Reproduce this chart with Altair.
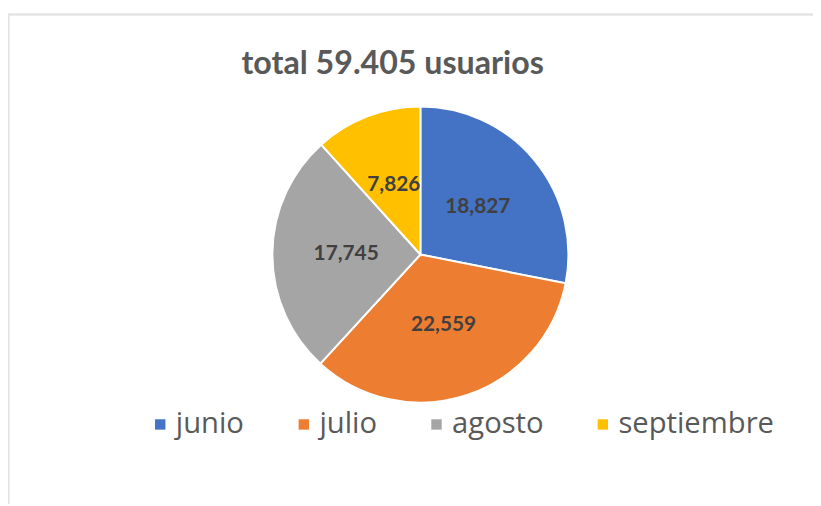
import altair as alt
import pandas as pd

meses = ["junio", "julio", "agosto", "septiembre"]
usuarios = [18827, 22559, 17745, 7826]
colores = ["#4472C4", "#ED7D31", "#A5A5A5", "#FFC000"]
titulo = "total 59.405 usuarios"

df = pd.DataFrame({"mes": meses, "usuarios": usuarios, "orden": list(range(len(meses)))})

W, H = 813, 498
CX, CY = 416.5, 246.5
R = 149.5

base = alt.Chart(df).encode(
    theta=alt.Theta("usuarios:Q", stack=True),
    order=alt.Order("orden:Q"),
)

pie = base.mark_arc(outerRadius=R, stroke="white", strokeWidth=2).encode(
    color=alt.Color(
        "mes:N",
        scale=alt.Scale(domain=meses, range=colores),
        sort=meses,
        legend=alt.Legend(
            title=None,
            orient="none",
            direction="horizontal",
            legendX=139,
            legendY=403,
            symbolType="square",
            symbolSize=110,
            symbolStrokeWidth=0,
            labelFont="Open Sans",
            labelFontSize=29.5,
            labelColor="#595959",
            labelOffset=1,
            columnPadding=45,
            padding=0,
            labelLimit=400,
        ),
    ),
    x=alt.value(CX),
    y=alt.value(CY),
)

labels = base.mark_text(
    radius=75, font="Lato", fontSize=21, fontWeight="bold", color="#404040"
).encode(
    text=alt.Text("usuarios:Q", format=","),
    x=alt.value(CX),
    y=alt.value(CY),
)

frame_top = alt.Chart(df).mark_rule(color="#e3e3e3", strokeWidth=1.5).encode(
    x=alt.value(0), x2=alt.value(W), y=alt.value(4)
)
frame_left = alt.Chart(df).mark_rule(color="#e3e3e3", strokeWidth=1.5).encode(
    x=alt.value(0.5), y=alt.value(4), y2=alt.value(H)
)

chart = (
    alt.layer(frame_top, frame_left, pie, labels)
    .properties(
        width=W,
        height=H,
        padding=0,
        autosize=alt.AutoSizeParams(type="none"),
        title=alt.TitleParams(
            text=titulo,
            font="Lato",
            fontSize=32.5,
            fontWeight="bold",
            color="#595959",
            anchor="middle",
            dx=-18,
            dy=75,
        ),
    )
    .configure_view(stroke=None)
)

chart.save("out.html", embed_options={"renderer": "svg", "actions": False})
